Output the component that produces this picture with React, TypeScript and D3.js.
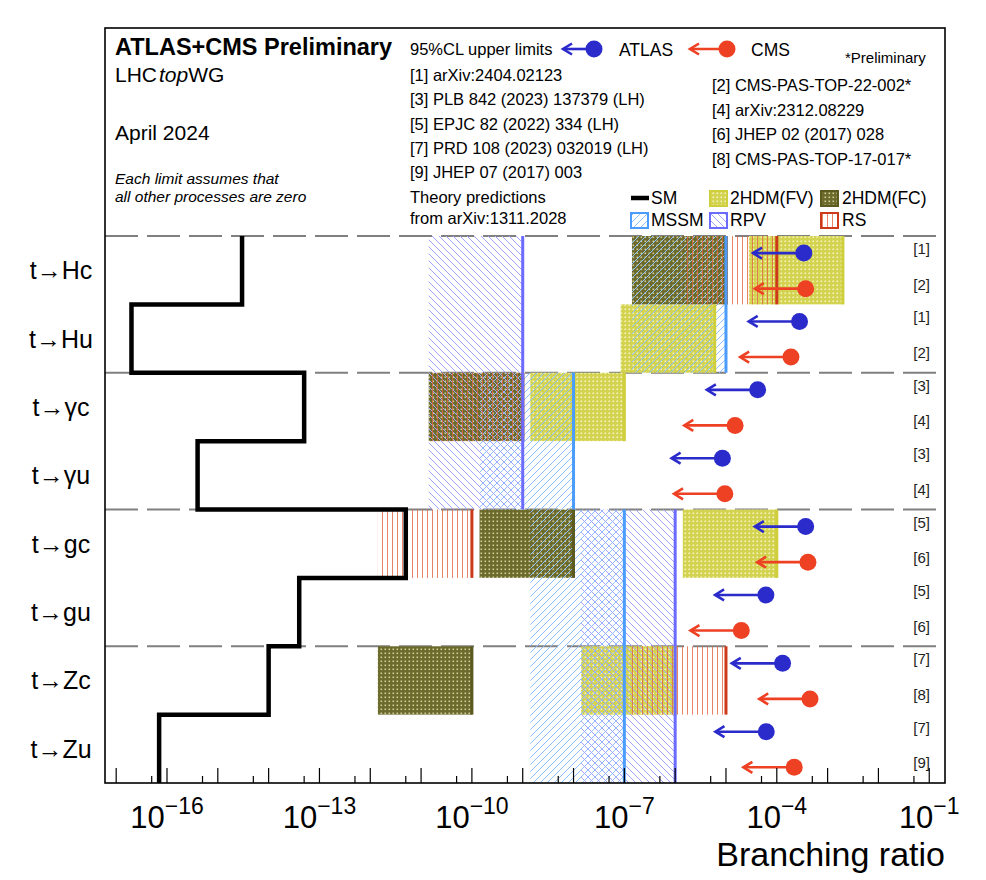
import React from 'react';
import * as d3 from 'd3';

// processes, top to bottom
const processes = ["t→Hc", "t→Hu", "t→γc", "t→γu", "t→gc", "t→gu", "t→Zc", "t→Zu"];

// SM predictions (arXiv:1311.2028)
const smValues = [3e-15, 2e-17, 5e-14, 4e-16, 5e-12, 4e-14, 1e-14, 7e-17];

// 95% CL upper limits
const atlasLimits = [3.4e-4, 2.8e-4, 4.2e-5, 0.85e-5, 3.7e-4, 6.1e-5, 1.3e-4, 6.2e-5];
const cmsLimits = [3.7e-4, 1.9e-4, 1.51e-5, 0.95e-5, 4.1e-4, 2.0e-5, 4.5e-4, 2.2e-4];
const atlasRefs = ["[1]", "[1]", "[3]", "[3]", "[5]", "[5]", "[7]", "[7]"];
const cmsRefs = ["[2]", "[2]", "[4]", "[4]", "[6]", "[6]", "[8]", "[9]"];

// theory predictions: first process, last process, upper value
const fvPreds = [
  { from: "t→Hc", to: "t→Hc", value: 2e-3 },
  { from: "t→Hu", to: "t→Hu", value: 6e-6 },
  { from: "t→γc", to: "t→γc", value: 1e-7 },
  { from: "t→gc", to: "t→gc", value: 1e-4 },
  { from: "t→Zc", to: "t→Zc", value: 1e-6 },
];
const fcPreds = [
  { from: "t→Hc", to: "t→Hc", value: 1e-5 },
  { from: "t→γc", to: "t→γc", value: 1e-9 },
  { from: "t→gc", to: "t→gc", value: 1e-8 },
  { from: "t→Zc", to: "t→Zc", value: 1e-10 },
];
const mssmPreds = [
  { from: "t→Hc", to: "t→Hu", value: 1e-5 },
  { from: "t→γc", to: "t→γu", value: 1e-8 },
  { from: "t→gc", to: "t→gu", value: 1e-7 },
  { from: "t→Zc", to: "t→Zu", value: 1e-7 },
];
const rpvPreds = [
  { from: "t→Hc", to: "t→Hu", value: 1e-9 },
  { from: "t→γc", to: "t→γu", value: 1e-9 },
  { from: "t→gc", to: "t→gu", value: 1e-6 },
  { from: "t→Zc", to: "t→Zu", value: 1e-6 },
];
const rsPreds = [
  { from: "t→Hc", to: "t→Hc", value: 1e-4 },
  { from: "t→γc", to: "t→γc", value: 1e-9 },
  { from: "t→gc", to: "t→gc", value: 1e-10 },
  { from: "t→Zc", to: "t→Zc", value: 1e-5 },
];

const majorExps = d3.range(-17, 0);
const labelExps = [-16, -13, -10, -7, -4, -1];

const leftRefs = [
  "[1] arXiv:2404.02123",
  "[3] PLB 842 (2023) 137379 (LH)",
  "[5] EPJC 82 (2022) 334 (LH)",
  "[7] PRD 108 (2023) 032019 (LH)",
  "[9] JHEP 07 (2017) 003",
];
const rightRefs = [
  "[2] CMS-PAS-TOP-22-002*",
  "[4] arXiv:2312.08229",
  "[6] JHEP 02 (2017) 028",
  "[8] CMS-PAS-TOP-17-017*",
];

const FONT = "'Liberation Sans', Arial, Helvetica, sans-serif";
const BLUE = "#2b2bcc";
const RED = "#ee4124";
const boxDecades = 1.85;

const frame = { left: 105, right: 945, top: 28, bottom: 783 };
const rowTop = 236;

const App: React.FC = () => {
  const x = d3.scaleLog()
    .domain([10 ** -17.22, 10 ** -0.69])
    .range([frame.left, frame.right]);
  const y = d3.scaleBand<string>()
    .domain(processes)
    .range([rowTop, frame.bottom]);
  const bw = y.bandwidth();
  const [dLo, dHi] = x.domain();
  const inside = (v: number) => v >= dLo && v <= dHi;

  const box = (p: { from: string; to: string; value: number }) => ({
    x0: x(p.value / 10 ** boxDecades),
    x1: x(p.value),
    y0: y(p.from)!,
    y1: y(p.to)! + bw,
  });

  // SM step line
  const smPts: [number, number][] = [];
  processes.forEach((p, i) => {
    smPts.push([x(smValues[i]), y(p)!]);
    smPts.push([x(smValues[i]), y(p)! + bw]);
  });
  const smPath = d3.line()(smPts) || "";

  const limitMark = (v: number, yy: number, color: string, key: string) => {
    const tip = x(v / 10);
    return (
      <g key={key}>
        <line x1={x(v)} x2={tip + 1} y1={yy} y2={yy} stroke={color} strokeWidth={2.6} />
        <polyline points={`${tip + 9},${yy - 5.5} ${tip},${yy} ${tip + 9},${yy + 5.5}`}
          fill="none" stroke={color} strokeWidth={2.6} />
        <circle cx={x(v)} cy={yy} r={8.5} fill={color} />
      </g>
    );
  };

  const drawBoxes = (preds: typeof fvPreds, pat: string, key: string) =>
    preds.map((p, i) => {
      const b = box(p);
      return <rect key={key + i} x={b.x0} y={b.y0} width={b.x1 - b.x0} height={b.y1 - b.y0} fill={`url(#${pat})`} />;
    });
  const drawEdges = (preds: typeof fvPreds, edge: string, key: string) =>
    preds.map((p, i) => {
      const b = box(p);
      return <line key={key + i} x1={b.x1} x2={b.x1} y1={b.y0} y2={b.y1} stroke={edge} strokeWidth={3} />;
    });

  const groupLines = [0, 2, 4, 6].map(i => y(processes[i])!);

  return (
    <svg width={986} height={880} style={{ position: 'absolute', left: 0, top: 0 }} fontFamily={FONT}>
      <defs>
        <pattern id="fv" width={4} height={4} patternUnits="userSpaceOnUse">
          <rect width={4} height={4} fill="#d3d350" />
          <rect x={0.5} y={0.5} width={1.6} height={1.6} fill="#f3f3c0" />
        </pattern>
        <pattern id="fc" width={4} height={4} patternUnits="userSpaceOnUse">
          <rect width={4} height={4} fill="#6c6a2a" />
          <rect x={0.5} y={0.5} width={1.6} height={1.6} fill="#cfcca0" />
        </pattern>
        <pattern id="mssm" width={7} height={7} patternUnits="userSpaceOnUse">
          <path d="M0,7 L7,0 M-1,1 L1,-1 M6,8 L8,6" stroke="#8dc0ff" strokeWidth={1} />
        </pattern>
        <pattern id="rpv" width={7} height={7} patternUnits="userSpaceOnUse">
          <path d="M0,0 L7,7 M-1,6 L1,8 M6,-1 L8,1" stroke="#a2a2ff" strokeWidth={1} />
        </pattern>
        <pattern id="rs" width={5} height={10} patternUnits="userSpaceOnUse">
          <line x1={2.5} x2={2.5} y1={0} y2={10} stroke="#e2643f" strokeWidth={0.8} />
        </pattern>
      </defs>

      <rect x={0} y={0} width={986} height={880} fill="#fff" />

      {/* group separators */}
      {groupLines.map((gy, i) => (
        <line key={"sep" + i} x1={frame.left} x2={frame.right} y1={gy} y2={gy}
          stroke="#808080" strokeWidth={1.8} strokeDasharray="33 9" />
      ))}

      {drawBoxes(fvPreds, "fv", "fv")}
      {drawBoxes(fcPreds, "fc", "fc")}
      {drawBoxes(mssmPreds, "mssm", "mssm")}
      {drawBoxes(rpvPreds, "rpv", "rpv")}
      {drawBoxes(rsPreds, "rs", "rs")}
      {drawEdges(fvPreds, "#cfcf3c", "fve")}
      {drawEdges(fcPreds, "#5c5a1e", "fce")}
      {drawEdges(rsPreds, "#cc3a1a", "rse")}
      {drawEdges(mssmPreds, "#4a9cff", "mssme")}
      {drawEdges(rpvPreds, "#6b6bff", "rpve")}

      <path d={smPath} fill="none" stroke="#000" strokeWidth={4.5} />

      {/* experimental limits */}
      {processes.map((p, i) => limitMark(atlasLimits[i], y(p)! + bw * 0.25, BLUE, "a" + i))}
      {processes.map((p, i) => limitMark(cmsLimits[i], y(p)! + bw * 0.77, RED, "c" + i))}
      {processes.map((p, i) => (
        <g key={"ref" + i} fontSize={15} textAnchor="end" fill="#222">
          <text x={930} y={y(p)! + bw * 0.25 + 1}>{atlasRefs[i]}</text>
          <text x={930} y={y(p)! + bw * 0.77 + 1}>{cmsRefs[i]}</text>
        </g>
      ))}

      {/* process labels */}
      {processes.map(p => (
        <text key={"lab" + p} x={61} y={y(p)! + bw / 2 + 9} fontSize={25} textAnchor="middle">{p}</text>
      ))}

      {/* axis */}
      {majorExps.filter(e => inside(10 ** e)).map(e => (
        <line key={"mj" + e} x1={x(10 ** e)} x2={x(10 ** e)} y1={frame.bottom} y2={frame.bottom - 15} stroke="#000" strokeWidth={1.2} />
      ))}
      {majorExps.filter(e => inside(5 * 10 ** e)).map(e => (
        <line key={"mn" + e} x1={x(5 * 10 ** e)} x2={x(5 * 10 ** e)} y1={frame.bottom} y2={frame.bottom - 7} stroke="#000" strokeWidth={1.2} />
      ))}
      {labelExps.map(e => (
        <text key={"tl" + e} x={x(10 ** e)} y={828} textAnchor="middle" fontSize={31}>
          <tspan>10</tspan>
          <tspan fontSize={23} dy={-14}>{"\u2212" + Math.abs(e)}</tspan>
        </text>
      ))}
      <text x={945} y={866} textAnchor="end" fontSize={34}>Branching ratio</text>

      <rect x={frame.left} y={frame.top} width={frame.right - frame.left} height={frame.bottom - frame.top}
        fill="none" stroke="#000" strokeWidth={1.6} />

      {/* header */}
      <text x={115} y={55} fontSize={23.5} fontWeight="bold">ATLAS+CMS Preliminary</text>
      <text x={115} y={82} fontSize={21}>
        <tspan>LHC</tspan><tspan fontStyle="italic" dx={2}>top</tspan><tspan>WG</tspan>
      </text>
      <text x={115} y={140} fontSize={21}>April 2024</text>
      <text x={115} y={184} fontSize={15.5} fontStyle="italic">Each limit assumes that</text>
      <text x={115} y={202} fontSize={15.5} fontStyle="italic">all other processes are zero</text>

      <g fontSize={16.5}>
        <text x={410} y={55}>95%CL upper limits</text>
        {leftRefs.map((r, i) => <text key={"lr" + i} x={410} y={81 + i * 24.3}>{r}</text>)}
        <text x={410} y={203}>Theory predictions</text>
        <text x={410} y={224}>from arXiv:1311.2028</text>
        {rightRefs.map((r, i) => <text key={"rr" + i} x={712} y={91 + i * 24.5}>{r}</text>)}
      </g>
      <g fontSize={17.5}>
        <text x={619} y={56}>ATLAS</text>
        <text x={751} y={56}>CMS</text>
      </g>
      <text x={845} y={63} fontSize={15}>*Preliminary</text>
      {/* legend arrows */}
      <line x1={563} x2={594} y1={49} y2={49} stroke={BLUE} strokeWidth={2.6} />
      <polyline points="572,43.5 563,49 572,54.5" fill="none" stroke={BLUE} strokeWidth={2.6} />
      <circle cx={594} cy={49} r={8.5} fill={BLUE} />
      <line x1={690} x2={727} y1={49} y2={49} stroke={RED} strokeWidth={2.6} />
      <polyline points="699,43.5 690,49 699,54.5" fill="none" stroke={RED} strokeWidth={2.6} />
      <circle cx={727} cy={49} r={8.5} fill={RED} />

      {/* theory legend */}
      <g fontSize={17.5}>
        <line x1={631} x2={649} y1={198} y2={198} stroke="#000" strokeWidth={4.5} />
        <text x={651} y={204}>SM</text>
        <rect x={710} y={191} width={17} height={15} fill="url(#fv)" stroke="#cfcf3c" strokeWidth={2} />
        <text x={730} y={204}>2HDM(FV)</text>
        <rect x={821} y={191} width={17} height={15} fill="url(#fc)" stroke="#5c5a1e" strokeWidth={2} />
        <text x={842} y={204}>2HDM(FC)</text>
        <rect x={631} y={213} width={17} height={15} fill="url(#mssm)" stroke="#4a9cff" strokeWidth={2} />
        <text x={651} y={226}>MSSM</text>
        <rect x={710} y={213} width={17} height={15} fill="url(#rpv)" stroke="#6b6bff" strokeWidth={2} />
        <text x={730} y={226}>RPV</text>
        <rect x={821} y={213} width={17} height={15} fill="url(#rs)" stroke="#cc3a1a" strokeWidth={2} />
        <text x={842} y={226}>RS</text>
      </g>
    </svg>
  );
};

export default App;
